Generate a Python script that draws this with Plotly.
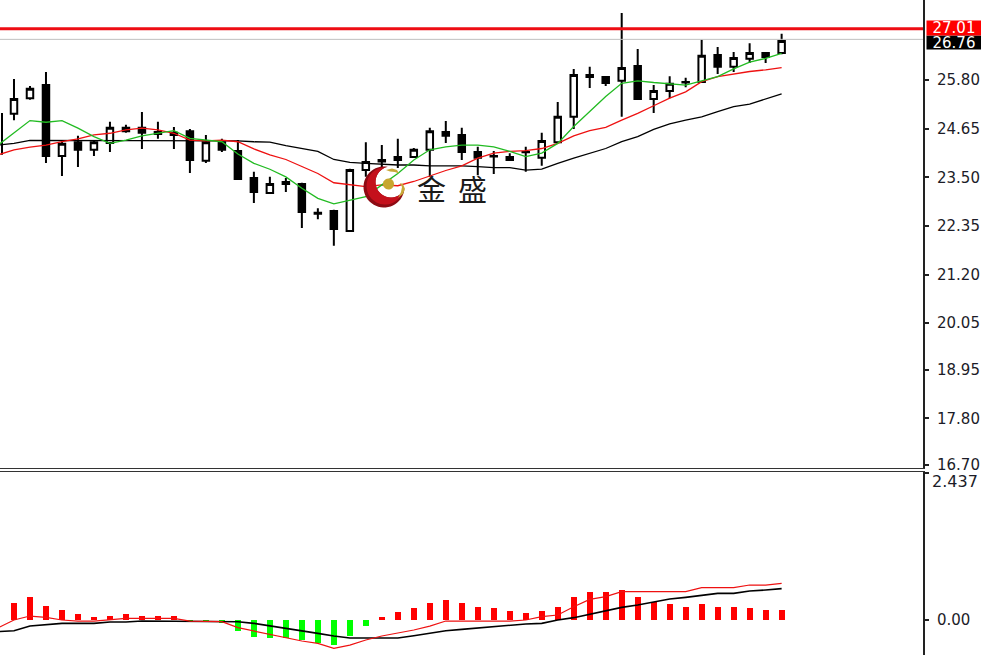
import numpy as np
import plotly.graph_objects as go

W, H = 981, 655

# ---------- data ----------
candle_index = list(range(49))
open_ = [25.00,25.37,25.68,24.00,24.33,24.15,24.31,24.67,24.67,24.57,24.55,24.59,23.89,24.33,24.12,23.48,23.13,23.39,23.34,22.66,
         22.70,22.23,23.67,23.91,23.91,23.98,24.15,24.57,24.50,24.10,24.00,23.98,24.10,23.96,24.33,24.93,25.92,25.87,25.78,26.13,
         25.35,25.54,25.74,25.75,26.39,26.11,26.30,26.44,26.44]
high = [25.82,25.66,25.99,24.38,24.48,24.38,24.81,24.74,25.04,24.81,24.69,24.64,24.50,24.41,24.38,23.63,23.51,23.48,23.37,22.77,
        22.73,23.70,24.33,24.26,24.41,24.19,24.67,24.83,24.67,24.22,24.12,24.07,24.22,24.55,25.28,26.06,26.11,25.89,27.38,26.53,
        25.68,25.89,25.85,26.75,26.58,26.46,26.67,26.44,26.89]
low = [24.85,25.33,23.84,23.53,23.74,24.00,24.10,24.55,24.17,24.41,24.17,23.60,23.84,24.10,23.44,22.89,23.11,23.15,22.30,22.51,
       21.88,22.21,23.51,23.74,23.72,23.96,23.51,24.31,23.91,23.55,23.58,23.91,23.63,23.77,24.31,24.64,25.61,25.66,24.93,25.33,
       25.02,25.37,25.63,25.73,25.94,25.99,26.20,26.20,26.41]
close = [25.35,25.59,24.00,24.29,24.15,24.33,24.67,24.59,24.55,24.52,24.50,23.91,24.33,24.15,23.46,23.15,23.34,23.34,22.68,22.64,
         22.28,23.67,23.86,23.87,23.98,24.15,24.59,24.48,24.10,23.96,23.99,23.91,24.09,24.36,24.93,25.92,25.87,25.73,26.08,25.35,
         25.54,25.71,25.75,26.37,26.11,26.32,26.44,26.34,26.72]

edge_wick_index = [-0.75, -0.75]
edge_wick_price = [25.02, 24.03]

line_index = list(range(-1, 49))
ma_green = [24.26,24.54,24.84,24.80,24.84,24.66,24.46,24.30,24.38,24.48,24.54,24.60,24.42,24.38,24.34,24.05,23.83,23.69,23.51,23.24,
            23.00,22.87,22.96,23.04,23.32,23.59,23.91,24.15,24.22,24.26,24.26,24.22,24.11,23.99,24.07,24.30,24.70,25.05,25.41,25.72,
            25.78,25.74,25.71,25.68,25.78,25.88,26.06,26.22,26.31,26.43]
ma_red = [24.03,24.15,24.21,24.26,24.34,24.41,24.50,24.54,24.62,24.66,24.62,24.54,24.38,24.36,24.38,24.34,24.17,24.03,23.92,23.75,
          23.59,23.37,23.32,23.28,23.32,23.30,23.40,23.53,23.66,23.77,23.95,24.07,24.11,24.13,24.18,24.30,24.48,24.60,24.68,24.85,
          25.01,25.19,25.37,25.52,25.76,25.88,25.94,26.00,26.04,26.09]
ma_black = [24.26,24.30,24.37,24.37,24.37,24.37,24.37,24.37,24.37,24.37,24.37,24.37,24.37,24.37,24.37,24.36,24.34,24.33,24.25,24.18,
            24.11,23.92,23.85,23.83,23.81,23.79,23.79,23.77,23.77,23.77,23.75,23.73,23.73,23.67,23.69,23.83,23.95,24.07,24.18,24.34,
            24.46,24.63,24.76,24.85,24.93,25.05,25.17,25.23,25.35,25.47]

ask_price = 27.01
bid_price = 26.76
price_ticks = [25.80,24.65,23.50,22.35,21.20,20.05,18.95,17.80,16.70]
price_labels = ["25.80","24.65","23.50","22.35","21.20","20.05","18.95","17.80","16.70"]

macd_hist = [0.287,0.376,0.232,0.166,0.095,0.045,0.066,0.095,0.066,0.066,0.066,-0.038,-0.033,-0.050,-0.182,-0.277,-0.299,-0.299,-0.332,-0.381,
             -0.415,-0.260,-0.091,0.045,0.128,0.194,0.287,0.332,0.287,0.216,0.194,0.149,0.121,0.149,0.216,0.381,0.469,0.469,0.498,0.381,
             0.303,0.260,0.216,0.260,0.216,0.216,0.194,0.166,0.166]
macd_red = [-0.13,0.00,0.066,0.044,0.00,-0.017,-0.017,0.011,0.028,0.028,0.028,0.028,-0.017,-0.017,-0.028,-0.127,-0.182,-0.232,-0.287,-0.348,
            -0.387,-0.470,-0.415,-0.332,-0.265,-0.221,-0.166,-0.10,-0.017,-0.017,-0.017,-0.017,-0.017,0.00,0.055,0.083,0.221,0.343,0.387,0.47,
            0.47,0.47,0.47,0.47,0.536,0.536,0.536,0.58,0.58,0.608]
macd_black = [-0.193,-0.177,-0.10,-0.072,-0.055,-0.055,-0.055,-0.033,-0.033,-0.017,-0.017,-0.017,-0.017,-0.017,-0.017,-0.028,-0.055,-0.094,-0.133,-0.177,
              -0.221,-0.265,-0.299,-0.299,-0.299,-0.299,-0.26,-0.221,-0.177,-0.155,-0.133,-0.10,-0.083,-0.066,-0.055,0.00,0.039,0.094,0.155,0.21,
              0.249,0.304,0.348,0.376,0.409,0.442,0.442,0.481,0.498,0.52]
macd_ticks = [2.437, 0.0]
macd_labels = ["", "0.00"]

assert all(len(a) == 49 for a in (open_, high, low, close, macd_hist))
assert all(len(a) == 50 for a in (ma_green, ma_red, ma_black, macd_red, macd_black))

# ---------- figure ----------
x_range = [-0.875, 56.84]
fig = go.Figure()

fig.add_trace(go.Candlestick(
    x=candle_index, open=open_, high=high, low=low, close=close,
    xaxis="x", yaxis="y",
    increasing=dict(line=dict(color="#000000", width=2), fillcolor="#ffffff"),
    decreasing=dict(line=dict(color="#000000", width=2), fillcolor="#000000"),
    whiskerwidth=0, showlegend=False))
fig.add_trace(go.Scatter(x=edge_wick_index, y=edge_wick_price, mode="lines",
                         line=dict(color="#000000", width=2), xaxis="x", yaxis="y", showlegend=False))
for vals, col, wd in [(ma_black, "#000000", 1.3), (ma_red, "#ee1111", 1.3), (ma_green, "#22bb22", 1.3)]:
    fig.add_trace(go.Scatter(x=line_index, y=vals, mode="lines", line=dict(color=col, width=wd),
                             xaxis="x", yaxis="y", showlegend=False))
fig.add_trace(go.Scatter(x=x_range, y=[bid_price, bid_price], mode="lines",
                         line=dict(color="#c0c0c0", width=1), xaxis="x", yaxis="y", showlegend=False))
fig.add_trace(go.Scatter(x=x_range, y=[ask_price, ask_price], mode="lines",
                         line=dict(color="#ee0d14", width=3), xaxis="x", yaxis="y", showlegend=False))

fig.add_trace(go.Bar(x=candle_index, y=macd_hist, width=0.37,
                     marker=dict(color=["#ff0000" if v > 0 else "#00ff00" for v in macd_hist], line=dict(width=0)),
                     xaxis="x2", yaxis="y2", showlegend=False))
fig.add_trace(go.Scatter(x=line_index, y=macd_black, mode="lines", line=dict(color="#000000", width=1.6),
                         xaxis="x2", yaxis="y2", showlegend=False))
fig.add_trace(go.Scatter(x=line_index, y=macd_red, mode="lines", line=dict(color="#ee1111", width=1.2),
                         xaxis="x2", yaxis="y2", showlegend=False))


# ---------- watermark logo (page furniture, placed by pixel) ----------
def pth(points):
    return "M" + "L".join(f"{x/W:.5f},{1-y/H:.5f}" for x, y in points) + "Z"


def crescent(cx, cy, R, ix, iy, r):
    dx, dy = ix - cx, iy - cy
    d = np.hypot(dx, dy)
    ang0 = np.arctan2(dy, dx)
    da = np.arccos((d*d + R*R - r*r) / (2*d*R))
    outer = [(cx + R*np.cos(t), cy + R*np.sin(t)) for t in np.linspace(ang0 + da, ang0 + 2*np.pi - da, 40)]
    ang1 = np.arctan2(outer[-1][1]-iy, outer[-1][0]-ix)
    ang2 = np.arctan2(outer[0][1]-iy, outer[0][0]-ix)
    if ang2 > ang1:
        ang2 -= 2*np.pi
    inner = [(ix + r*np.cos(t), iy + r*np.sin(t)) for t in np.linspace(ang1, ang2, 30)]
    return outer + inner


def disk(cx, cy, r):
    return [(cx + r*np.cos(t), cy + r*np.sin(t)) for t in np.linspace(0, 2*np.pi, 32)]


logo = [
    (crescent(384, 187, 20.5, 391, 182, 15.5), "#8d0b14"),
    (crescent(385, 186, 18.5, 391, 182, 15.5), "#c4101c"),
    ([(386, 170), (392, 168.5), (397, 170), (399, 173.5), (395, 172), (390, 171.5)], "#c8a838"),
    ([(400, 183), (403, 184), (405, 189), (403, 194), (398, 198), (401, 192), (402, 187)], "#c8a838"),
    (disk(388.5, 184, 5.5), "#c7a62f"),
]
shapes = [dict(type="path", path=pth(p), xref="paper", yref="paper", fillcolor=c,
               line=dict(width=0), layer="above") for p, c in logo]

tick_font = dict(family="DejaVu Sans", size=15, color="#1c1c28")
ann = [
    dict(text="金", x=431/W, y=1-188/H, font=dict(family="Noto Sans CJK SC", size=29, color="#1a1a1a")),
    dict(text="盛", x=472/W, y=1-188/H, font=dict(family="Noto Sans CJK SC", size=29, color="#1a1a1a")),
    dict(text="2.437", x=955/W, y=1-481.5/H, font=dict(family="DejaVu Sans", size=16, color="#1c1c28")),
    dict(text="26.76", x=954/W, y=1-42/H, font=dict(family="DejaVu Sans", size=15, color="#ffffff"),
         bgcolor="#000000", width=54, height=13, borderpad=0),
    dict(text="27.01", x=954/W, y=1-28.5/H, font=dict(family="DejaVu Sans", size=15, color="#ffffff"),
         bgcolor="#ff0000", width=54, height=14, borderpad=0),
]
for a in ann:
    a.update(xref="paper", yref="paper", showarrow=False, xanchor="center", yanchor="middle")

axis_line = dict(showline=True, linecolor="#222222", linewidth=2, showgrid=False, zeroline=False)
fig.update_layout(
    width=W, height=H, margin=dict(l=0, r=0, t=0, b=0, autoexpand=False), autosize=False,
    paper_bgcolor="#ffffff", plot_bgcolor="#ffffff", showlegend=False, boxgap=0.42, bargap=0,
    xaxis=dict(domain=[0, 923/W], range=x_range, showticklabels=False, ticks="", showgrid=False, zeroline=False,
               showline=True, linecolor="#333333", linewidth=1.25, anchor="y", rangeslider=dict(visible=False)),
    xaxis2=dict(domain=[0, 923/W], range=x_range, showticklabels=False, ticks="", showgrid=False, zeroline=False,
                showline=True, linecolor="#333333", linewidth=1.25, anchor="y2", side="top"),
    yaxis=dict(domain=[187.5/H, 1], range=[16.64, 27.69], side="right", anchor="x", tickmode="array",
               tickvals=price_ticks, ticktext=price_labels, ticks="outside", ticklen=4, tickwidth=1.5,
               tickcolor="#222222", tickfont=tick_font, ticklabelstandoff=5, **axis_line),
    yaxis2=dict(domain=[0, 183/H], range=[-0.58, 2.454], side="right", anchor="x2", tickmode="array",
                tickvals=macd_ticks, ticktext=macd_labels, ticks="outside", ticklen=4, tickwidth=1.5,
                tickcolor="#222222", tickfont=tick_font, ticklabelstandoff=5, **axis_line),
    shapes=shapes, annotations=ann,
)

fig.write_html("out.html", config=dict(displayModeBar=False, responsive=False),
               default_width="981px", default_height="655px",
               post_script="document.body.style.margin='0';document.body.style.overflow='hidden';")
